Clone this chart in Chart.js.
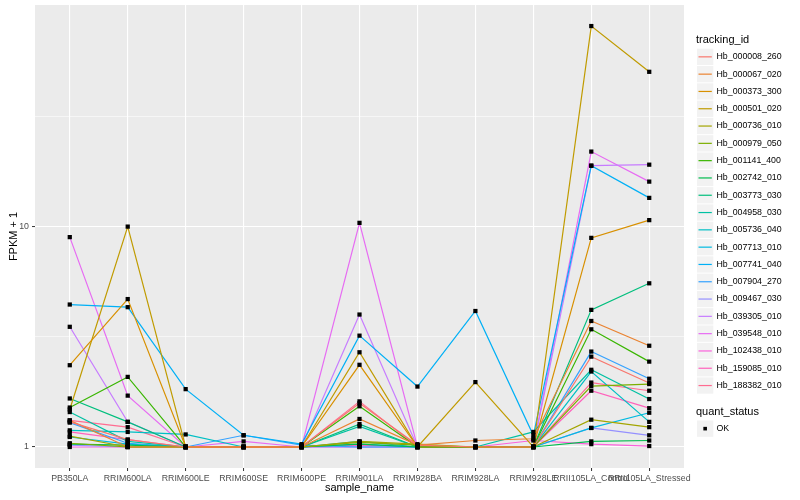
<!DOCTYPE html>
<html>
<head>
<meta charset="utf-8">
<script src="https://cdn.jsdelivr.net/npm/chart.js@4.4.1/dist/chart.umd.min.js"></script>
<style>
  html, body { margin: 0; padding: 0; background: #fff; }
  #wrap { width: 800px; height: 500px; }
</style>
</head>
<body>
<div id="wrap"><canvas id="chart" width="800" height="500"></canvas></div>
<script>
// x categories
const sampleNames = ['PB350LA', 'RRIM600LA', 'RRIM600LE', 'RRIM600SE', 'RRIM600PE', 'RRIM901LA',
  'RRIM928BA', 'RRIM928LA', 'RRIM928LE', 'RRII105LA_Control', 'RRII105LA_Stressed'];

const trackingIds = ['Hb_000008_260', 'Hb_000067_020', 'Hb_000373_300', 'Hb_000501_020', 'Hb_000736_010',
  'Hb_000979_050', 'Hb_001141_400', 'Hb_002742_010', 'Hb_003773_030', 'Hb_004958_030',
  'Hb_005736_040', 'Hb_007713_010', 'Hb_007741_040', 'Hb_007904_270', 'Hb_009467_030',
  'Hb_039305_010', 'Hb_039548_010', 'Hb_102438_010', 'Hb_159085_010', 'Hb_188382_010'];

// FPKM + 1, one array per gene, in sampleNames order
const hb000008_260 = [1.30, 1.08, 1.00, 1.00, 1.00, 1.58, 1.02, 1.00, 1.00, 2.57, 1.95];
const hb000067_020 = [1.32, 1.00, 1.00, 1.00, 1.00, 1.34, 1.02, 1.07, 1.09, 3.73, 2.88];
const hb000373_300 = [2.35, 4.69, 1.00, 1.00, 1.00, 2.36, 1.00, 1.00, 1.00, 8.89, 10.7];
const hb000501_020 = [1.48, 10.0, 1.00, 1.00, 1.00, 2.69, 1.00, 1.97, 1.00, 81.3, 50.4];
const hb000736_010 = [1.12, 1.00, 1.00, 1.00, 1.00, 1.06, 1.03, 1.00, 1.00, 1.33, 1.23];
const hb000979_050 = [1.04, 1.00, 1.00, 1.00, 1.00, 1.05, 1.02, 1.00, 1.00, 1.89, 1.93];
const hb001141_400 = [1.51, 2.08, 1.00, 1.00, 1.00, 1.53, 1.00, 1.00, 1.00, 3.42, 2.44];
const hb002742_010 = [1.03, 1.02, 1.00, 1.00, 1.00, 1.03, 1.00, 1.00, 1.00, 1.06, 1.07];
const hb003773_030 = [1.66, 1.30, 1.00, 1.00, 1.00, 1.27, 1.00, 1.00, 1.00, 4.19, 5.53];
const hb004958_030 = [1.44, 1.06, 1.00, 1.00, 1.00, 1.24, 1.00, 1.00, 1.17, 2.24, 1.65];
const hb005736_040 = [1.19, 1.17, 1.14, 1.00, 1.00, 1.06, 1.00, 1.00, 1.00, 2.20, 1.30];
const hb007713_010 = [1.11, 1.03, 1.00, 1.00, 1.00, 1.03, 1.00, 1.00, 1.00, 1.22, 1.43];
const hb007741_040 = [4.43, 4.31, 1.83, 1.13, 1.03, 3.20, 1.88, 4.14, 1.13, 18.9, 13.5];
const hb007904_270 = [1.29, 1.04, 1.00, 1.13, 1.02, 1.00, 1.00, 1.00, 1.00, 2.71, 2.04];
const hb009467_030 = [1.02, 1.00, 1.00, 1.00, 1.00, 1.00, 1.00, 1.00, 1.00, 1.22, 1.13];
const hb039305_010 = [3.51, 1.30, 1.00, 1.00, 1.00, 3.99, 1.00, 1.00, 1.00, 18.9, 19.1];
const hb039548_010 = [8.96, 1.71, 1.00, 1.06, 1.00, 10.4, 1.00, 1.00, 1.00, 21.9, 16.0];
const hb102438_010 = [1.00, 1.00, 1.00, 1.00, 1.00, 1.00, 1.00, 1.00, 1.07, 1.03, 1.01];
const hb159085_010 = [1.17, 1.08, 1.00, 1.00, 1.00, 1.02, 1.00, 1.00, 1.00, 1.80, 1.50];
const hb188382_010 = [1.32, 1.23, 1.00, 1.00, 1.00, 1.61, 1.00, 1.00, 1.00, 1.96, 1.80];

const seriesValues = [hb000008_260, hb000067_020, hb000373_300, hb000501_020, hb000736_010,
  hb000979_050, hb001141_400, hb002742_010, hb003773_030, hb004958_030,
  hb005736_040, hb007713_010, hb007741_040, hb007904_270, hb009467_030,
  hb039305_010, hb039548_010, hb102438_010, hb159085_010, hb188382_010];

// y axis breaks (labelled) and the minor ones in between
const yMajorTicks = [1, 10];
const yMinorTicks = [3.1623, 31.623];

// default ggplot hue palette for 20 levels
const seriesColors = ['#F8766D', '#EA8331', '#D89000', '#C09B00', '#A3A500', '#7CAE00', '#39B600',
  '#00BB4E', '#00BF7D', '#00C1A3', '#00BFC4', '#00BAE0', '#00B0F6', '#35A2FF', '#9590FF',
  '#C77CFF', '#E76BF3', '#FA62DB', '#FF62BC', '#FF6C91'];

const FONT = '"Liberation Sans", Arial, sans-serif';

const lineSets = seriesValues.map((vals, i) => ({
  type: 'line',
  label: trackingIds[i],
  data: vals.map((v, j) => ({ x: j, y: v })),
  borderColor: seriesColors[i],
  borderWidth: 1.2,
  pointRadius: 0,
  tension: 0,
  order: 1
}));

// all points in one layer so they sit above every line
const pointSet = {
  type: 'scatter',
  label: 'OK',
  data: seriesValues.flatMap(vals => vals.map((v, j) => ({ x: j, y: v }))),
  backgroundColor: '#000',
  borderColor: '#000',
  pointStyle: 'rect',
  pointRadius: 3,
  borderWidth: 0,
  showLine: false,
  order: 0
};

const panelBg = {
  id: 'panelBg',
  beforeDraw(chart) {
    const { ctx, chartArea: a } = chart;
    ctx.save();
    ctx.fillStyle = '#EBEBEB';
    ctx.fillRect(a.left, a.top, a.right - a.left, a.bottom - a.top);
    ctx.restore();
  }
};

// ggplot-like legend on the right
const ggLegend = {
  id: 'ggLegend',
  afterDraw(chart) {
    const ctx = chart.ctx;
    const x0 = 697, keyW = 16.3, rowH = 17.3;
    let y = 48.7;
    ctx.save();
    ctx.textBaseline = 'middle';
    ctx.fillStyle = '#000';
    ctx.font = '11px ' + FONT;
    ctx.fillText('tracking_id', 696, 39.5);
    ctx.font = '8.8px ' + FONT;
    trackingIds.forEach((id, i) => {
      ctx.fillStyle = '#F2F2F2';
      ctx.fillRect(x0, y, keyW, keyW);
      ctx.strokeStyle = seriesColors[i];
      ctx.lineWidth = 1.2;
      ctx.beginPath();
      ctx.moveTo(x0 + 1.5, y + keyW / 2);
      ctx.lineTo(x0 + keyW - 1.5, y + keyW / 2);
      ctx.stroke();
      ctx.fillStyle = '#000';
      ctx.fillText(id, 716.5, y + keyW / 2);
      y += rowH;
    });
    ctx.font = '11px ' + FONT;
    ctx.fillText('quant_status', 696, 412.3);
    ctx.fillStyle = '#F2F2F2';
    ctx.fillRect(x0, 420.5, keyW, keyW);
    ctx.fillStyle = '#000';
    ctx.fillRect(x0 + keyW / 2 - 1.8, 420.5 + keyW / 2 - 1.8, 3.6, 3.6);
    ctx.font = '8.8px ' + FONT;
    ctx.fillText('OK', 716.5, 420.5 + keyW / 2);
    ctx.restore();
  }
};

new Chart(document.getElementById('chart'), {
  data: { datasets: [...lineSets, pointSet] },
  options: {
    responsive: false,
    animation: false,
    layout: { padding: { top: 5, right: 116, bottom: 0, left: 0 } },
    plugins: { legend: { display: false }, tooltip: { enabled: false } },
    scales: {
      x: {
        type: 'linear',
        min: -0.6,
        max: sampleNames.length - 0.4,
        afterBuildTicks: s => { s.ticks = sampleNames.map((_, i) => ({ value: i })); },
        afterFit: s => { s.height = 32; s.paddingLeft = 0; s.paddingRight = 0; },
        border: { display: false },
        grid: { color: '#FFFFFF', lineWidth: 1.1, tickColor: '#333333', tickLength: 3, tickWidth: 1 },
        ticks: {
          autoSkip: false, maxRotation: 0, minRotation: 0, padding: 2,
          color: '#4D4D4D', font: { family: FONT, size: 8.8 },
          callback: v => sampleNames[v]
        },
        title: { display: true, text: 'sample_name', color: '#000', font: { family: FONT, size: 11 },
          padding: { top: 0, bottom: 5 } }
      },
      y: {
        type: 'logarithmic',
        min: 0.8028,
        max: 101.3,
        afterBuildTicks: s => {
          s.ticks = [...yMajorTicks, ...yMinorTicks].sort((a, b) => a - b).map(v => ({ value: v }));
        },
        afterFit: s => { s.width = 35; s.paddingTop = 0; s.paddingBottom = 0; },
        border: { display: false },
        grid: {
          color: '#FFFFFF',
          lineWidth: c => (yMajorTicks.includes(c.tick && c.tick.value) ? 1.1 : 0.55),
          tickColor: c => (yMajorTicks.includes(c.tick && c.tick.value) ? '#333333' : 'rgba(0,0,0,0)'),
          tickLength: 3,
          tickWidth: 1
        },
        ticks: {
          padding: 3, color: '#4D4D4D', font: { family: FONT, size: 8.8 },
          callback: v => (yMajorTicks.includes(v) ? String(v) : '')
        },
        title: { display: true, text: 'FPKM + 1', color: '#000', font: { family: FONT, size: 11 },
          padding: { top: 7, bottom: 0 } }
      }
    }
  },
  plugins: [panelBg, ggLegend]
});
</script>
</body>
</html>
